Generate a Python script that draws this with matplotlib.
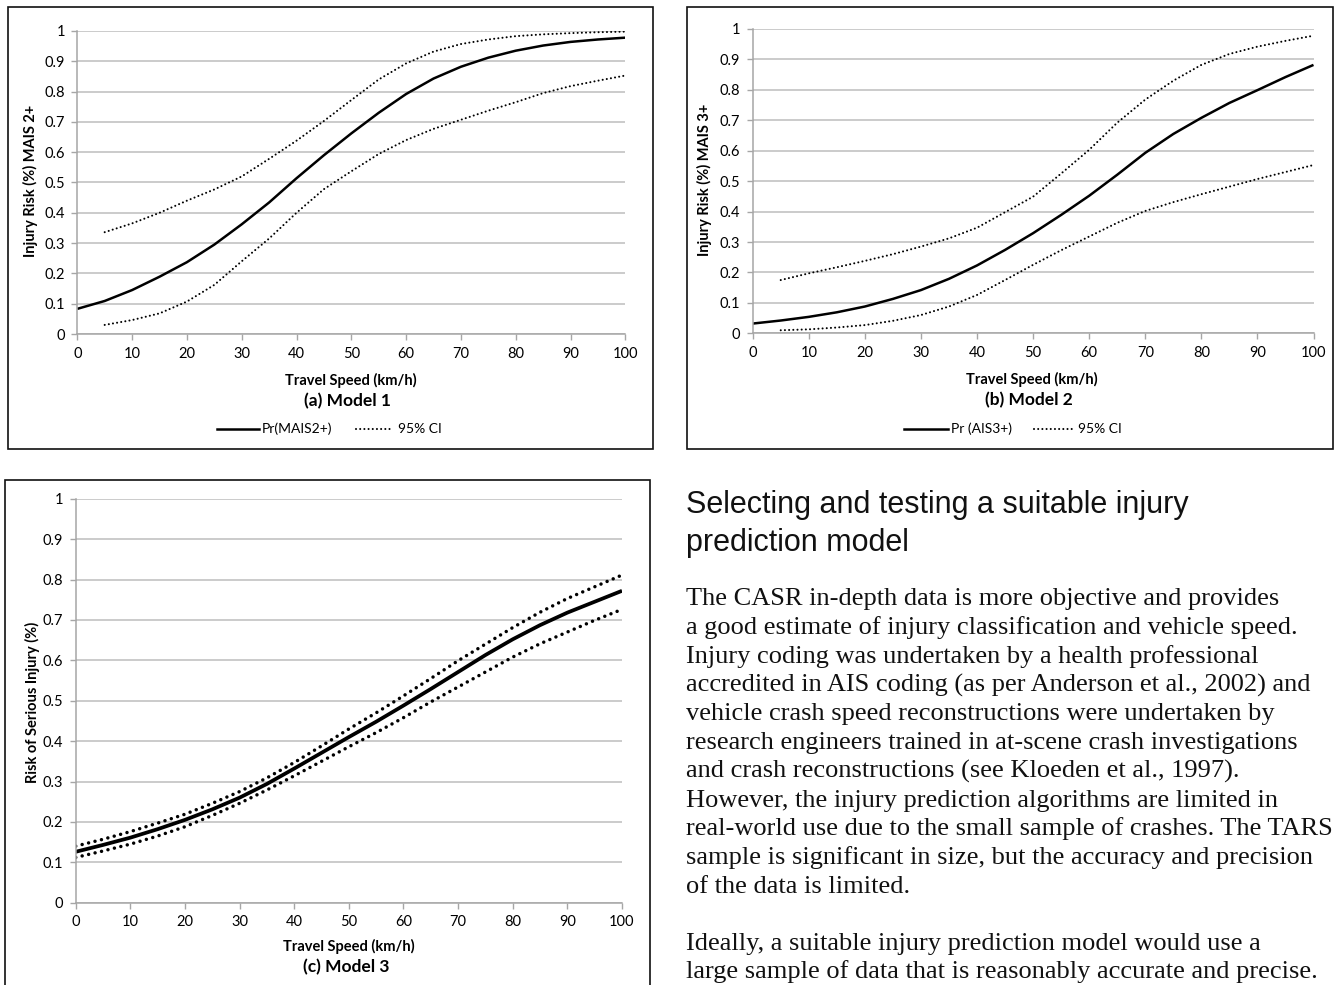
import numpy as np
import matplotlib
matplotlib.use('Agg')
import matplotlib.pyplot as plt
from matplotlib.patches import Rectangle

W, H = 1338, 985

# ---------------- data ----------------
speed = [0, 5, 10, 15, 20, 25, 30, 35, 40, 45, 50, 55, 60, 65, 70, 75, 80, 85, 90, 95, 100]
speed_ci = speed[1:]

# Model 1 : Pr(MAIS2+)
m1_pr = [0.083, 0.109, 0.145, 0.189, 0.237, 0.295, 0.362, 0.434, 0.514, 0.590, 0.662,
         0.730, 0.792, 0.843, 0.882, 0.912, 0.935, 0.952, 0.964, 0.972, 0.978]
m1_hi = [0.336, 0.365, 0.400, 0.440, 0.477, 0.520, 0.578, 0.638, 0.703, 0.772,
         0.840, 0.893, 0.932, 0.957, 0.972, 0.983, 0.989, 0.993, 0.996, 0.998]
m1_lo = [0.030, 0.046, 0.068, 0.107, 0.162, 0.240, 0.315, 0.400, 0.478, 0.537,
         0.594, 0.640, 0.677, 0.707, 0.737, 0.765, 0.795, 0.818, 0.836, 0.853]

# Model 2 : Pr (AIS3+)
m2_pr = [0.032, 0.042, 0.054, 0.069, 0.088, 0.113, 0.142, 0.179, 0.223, 0.274, 0.329,
         0.389, 0.452, 0.521, 0.593, 0.655, 0.708, 0.757, 0.799, 0.842, 0.882]
m2_hi = [0.175, 0.197, 0.217, 0.238, 0.260, 0.285, 0.312, 0.347, 0.398, 0.449,
         0.525, 0.603, 0.692, 0.768, 0.830, 0.882, 0.918, 0.942, 0.961, 0.978]
m2_lo = [0.010, 0.013, 0.019, 0.027, 0.041, 0.060, 0.088, 0.126, 0.175, 0.225,
         0.273, 0.318, 0.363, 0.402, 0.431, 0.457, 0.482, 0.507, 0.530, 0.553]

# Model 3 : risk of serious injury
m3_pr = [0.126, 0.143, 0.161, 0.182, 0.205, 0.231, 0.260, 0.294, 0.332, 0.371, 0.410,
         0.448, 0.488, 0.529, 0.571, 0.613, 0.652, 0.687, 0.718, 0.745, 0.772]
m3_hi = [0.140, 0.157, 0.176, 0.197, 0.219, 0.246, 0.275, 0.309, 0.347, 0.388, 0.430,
         0.470, 0.512, 0.555, 0.599, 0.640, 0.681, 0.719, 0.753, 0.782, 0.811]
m3_lo = [0.112, 0.128, 0.145, 0.165, 0.188, 0.216, 0.246, 0.279, 0.314, 0.350, 0.386,
         0.421, 0.458, 0.497, 0.534, 0.571, 0.608, 0.641, 0.670, 0.699, 0.726]

x_ticks = list(range(0, 101, 10))
y_ticks = [0, 0.1, 0.2, 0.3, 0.4, 0.5, 0.6, 0.7, 0.8, 0.9, 1]
y_ticklabels = ['0', '0.1', '0.2', '0.3', '0.4', '0.5', '0.6', '0.7', '0.8', '0.9', '1']

heading = ['Selecting and testing a suitable injury', 'prediction model']
para1 = ['The CASR in-depth data is more objective and provides',
         'a good estimate of injury classification and vehicle speed.',
         'Injury coding was undertaken by a health professional',
         'accredited in AIS coding (as per Anderson et al., 2002) and',
         'vehicle crash speed reconstructions were undertaken by',
         'research engineers trained in at-scene crash investigations',
         'and crash reconstructions (see Kloeden et al., 1997).',
         'However, the injury prediction algorithms are limited in',
         'real-world use due to the small sample of crashes. The TARS',
         'sample is significant in size, but the accuracy and precision',
         'of the data is limited.']
para2 = ['Ideally, a suitable injury prediction model would use a',
         'large sample of data that is reasonably accurate and precise.']

CHART_FONT = 'Lato'
GRID = '#bdbdbd'
AXIS = '#a6a6a6'
DOTS = (0, (0.01, 2.0))


def fx(x):
    return x / W


def fy(y):
    return 1 - y / H


def make_axes(fig, x0, x1, ytop, ybot):
    ax = fig.add_axes([fx(x0), fy(ybot), fx(x1) - fx(x0), (ybot - ytop) / H])
    ax.set_xlim(0, 100)
    ax.set_ylim(0, 1)
    ax.set_xticks(x_ticks)
    ax.set_yticks(y_ticks)
    ax.set_yticklabels(y_ticklabels)
    ax.grid(axis='y', color=GRID, lw=1.1)
    ax.set_axisbelow(True)
    for s in ['top', 'right']:
        ax.spines[s].set_visible(False)
    for s in ['left', 'bottom']:
        ax.spines[s].set_color(AXIS)
        ax.spines[s].set_linewidth(1.1)
    ax.tick_params(direction='out', length=4, width=1, color=AXIS,
                   labelsize=10.5, pad=5)
    for lab in ax.get_xticklabels() + ax.get_yticklabels():
        lab.set_family(CHART_FONT)
    return ax


def frame(fig, x0, x1, y0, y1):
    fig.add_artist(Rectangle((fx(x0), fy(y1)), fx(x1) - fx(x0), (y1 - y0) / H,
                             transform=fig.transFigure, fill=False,
                             edgecolor='#111111', lw=1.2))


def legend_row(fig, y, sx0, sx1, label1, dx0, dx1, label2):
    fig.add_artist(plt.Line2D([fx(sx0), fx(sx1)], [fy(y), fy(y)], color='black', lw=1.8,
                              transform=fig.transFigure))
    fig.add_artist(plt.Line2D([fx(dx0), fx(dx1)], [fy(y), fy(y)], color='black', lw=1.5,
                              linestyle=DOTS, dash_capstyle='round',
                              transform=fig.transFigure))
    fig.text(fx(sx1 + 3), fy(y), label1, family=CHART_FONT, fontsize=10, va='center', ha='left')
    fig.text(fx(dx1 + 5), fy(y), label2, family=CHART_FONT, fontsize=10, va='center', ha='left')


def labels(fig, ylab, ylx, yly, xcx, xly, title):
    fig.text(fx(ylx), fy(yly), ylab, rotation=90, family=CHART_FONT,
             fontsize=10.5, fontweight='bold', ha='center', va='center')
    fig.text(fx(xcx), fy(xly), 'Travel Speed (km/h)', family=CHART_FONT, fontsize=10.5,
             fontweight='bold', ha='center', va='center')
    fig.text(fx(xcx - 3), fy(xly + 21), title, family=CHART_FONT, fontsize=12.5,
             fontweight='bold', ha='center', va='center')


fig = plt.figure(figsize=(W / 100, H / 100), dpi=100)

# ---- (a) Model 1
frame(fig, 7.5, 653, 7, 449)
ax1 = make_axes(fig, 77.3, 625.3, 31, 334)
ax1.plot(speed, m1_pr, color='black', lw=1.8, solid_capstyle='butt')
ax1.plot(speed_ci, m1_hi, color='black', lw=1.5, linestyle=DOTS, dash_capstyle='round')
ax1.plot(speed_ci, m1_lo, color='black', lw=1.5, linestyle=DOTS, dash_capstyle='round')
labels(fig, 'Injury Risk (%) MAIS 2+', 30, 181, 351, 380, '(a) Model 1')
legend_row(fig, 429, 217, 259, 'Pr(MAIS2+)', 356, 393, '95% CI')

# ---- (b) Model 2
frame(fig, 687, 1333, 7, 449)
ax2 = make_axes(fig, 752.7, 1313.5, 29, 333.3)
ax2.plot(speed, m2_pr, color='black', lw=1.8, solid_capstyle='butt')
ax2.plot(speed_ci, m2_hi, color='black', lw=1.5, linestyle=DOTS, dash_capstyle='round')
ax2.plot(speed_ci, m2_lo, color='black', lw=1.5, linestyle=DOTS, dash_capstyle='round')
labels(fig, 'Injury Risk (%) MAIS 3+', 704, 180, 1032, 379, '(b) Model 2')
legend_row(fig, 429, 904, 948, 'Pr (AIS3+)', 1034, 1073, '95% CI')

# ---- (c) Model 3
frame(fig, 4.5, 650, 480, 1000)
ax3 = make_axes(fig, 75.7, 622, 498.7, 902.7)
ax3.plot(speed, m3_pr, color='black', lw=2.7, solid_capstyle='butt')
ax3.plot(speed, m3_hi, color='black', lw=2.5, linestyle=(0, (0.01, 1.9)), dash_capstyle='round')
ax3.plot(speed, m3_lo, color='black', lw=2.5, linestyle=(0, (0.01, 1.9)), dash_capstyle='round')
labels(fig, 'Risk of Serious Injury (%)', 32, 702, 349, 946, '(c) Model 3')

# ---- text block on the right
for i, line in enumerate(heading):
    fig.text(fx(686), fy(513 + 38 * i), line, family='Liberation Sans', fontsize=22,
             ha='left', va='baseline', color='#111111')
for i, line in enumerate(para1):
    fig.text(fx(686), fy(605 + 28.8 * i), line, family='Liberation Serif', fontsize=19,
             ha='left', va='baseline', color='#111111')
for i, line in enumerate(para2):
    fig.text(fx(686), fy(950 + 28 * i), line, family='Liberation Serif', fontsize=19,
             ha='left', va='baseline', color='#111111')

fig.savefig('out.png', dpi=100)
